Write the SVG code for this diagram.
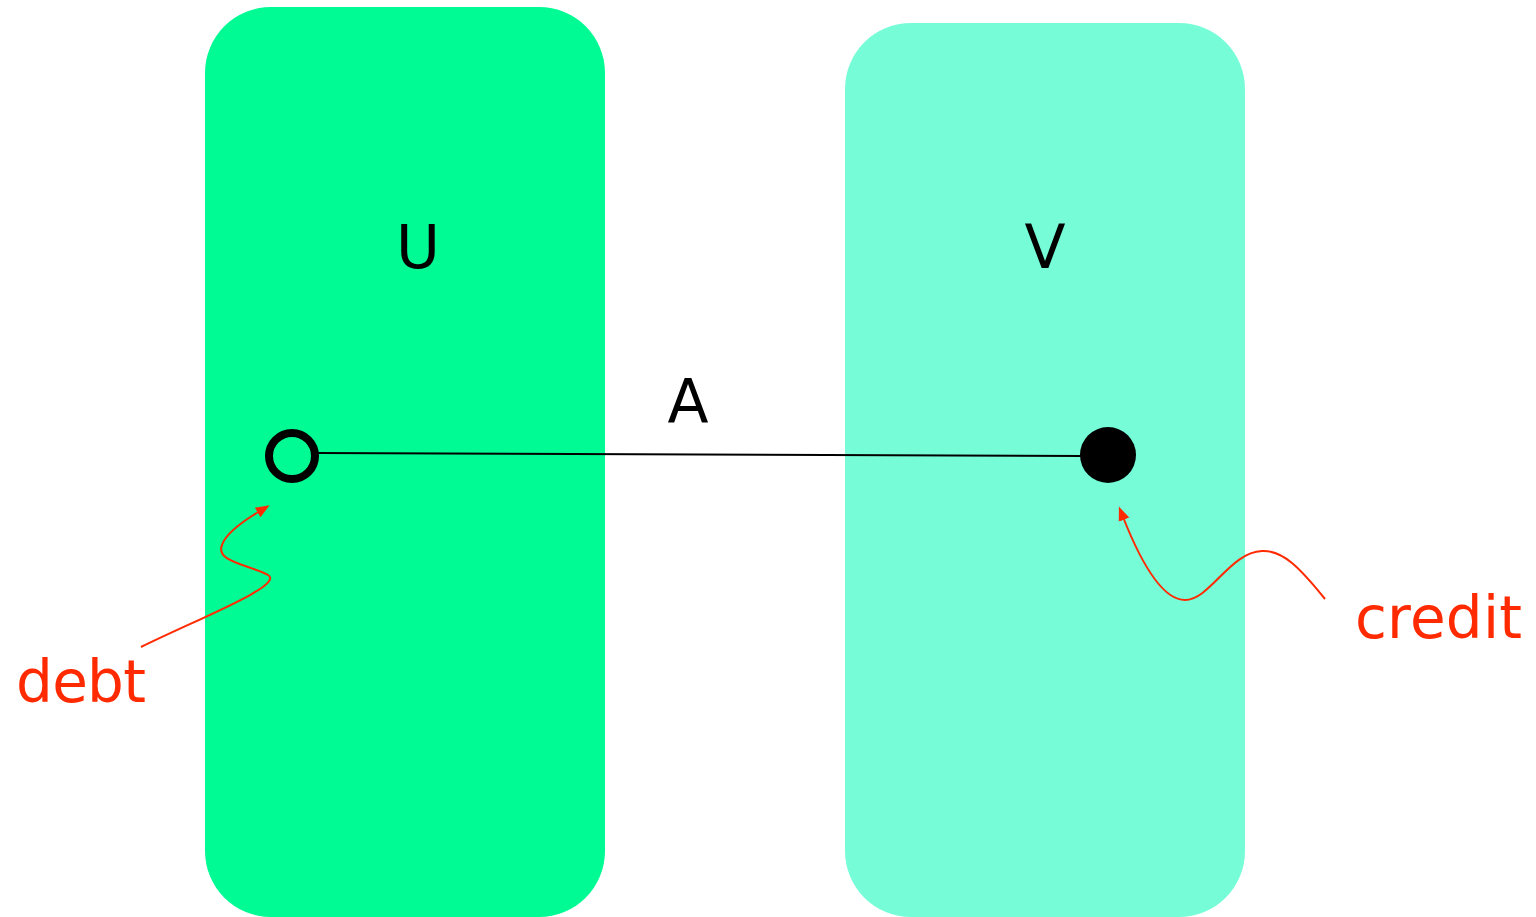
<svg xmlns="http://www.w3.org/2000/svg" width="1536" height="917" viewBox="0 0 1536 917">
<style>
.lbl{font-family:"DejaVu Sans","Liberation Sans",sans-serif;font-size:60px;fill:#000;text-anchor:middle}
.note{font-family:"DejaVu Sans","Liberation Sans",sans-serif;font-size:58px;fill:#ff2a00}
.red{fill:none;stroke:#ff2a00;stroke-width:2}
</style>
<defs>
<marker id="ah" viewBox="0 0 10 10" refX="2" refY="5" markerWidth="14" markerHeight="14" orient="auto" markerUnits="userSpaceOnUse">
<path d="M0,1 L10,5 L0,9 z" fill="#ff2a00"/>
</marker>
</defs>
<rect width="1536" height="917" fill="#fff"/>
<g id="U">
<rect x="205" y="7" width="400" height="910" rx="66" ry="66" fill="#00fa93"/>
<text class="lbl" x="418" y="268">U</text>
</g>
<g id="V">
<rect x="845" y="23" width="400" height="894" rx="66" ry="66" fill="#76fdd8"/>
<text class="lbl" x="1045" y="268">V</text>
</g>
<g id="connectors">
<line x1="318" y1="453" x2="1082" y2="456" stroke="#000" stroke-width="2"/>
<text class="lbl" x="688" y="422">A</text>
<path class="red" d="M141,647 C200,618 285,585 268,575 C250,565 215,562 222,545 C226,533 245,520 260,511" marker-end="url(#ah)"/>
<path class="red" d="M1325,599 C1300,568 1283,550 1262,551 C1230,552 1210,600 1185,600 C1160,600 1138,555 1123,517" marker-end="url(#ah)"/>
</g>
<g id="startNode">
<circle cx="292" cy="456" r="23" fill="none" stroke="#000" stroke-width="8"/>
</g>
<g id="endNode">
<circle cx="1108" cy="455" r="28" fill="#000"/>
</g>
<g id="debt">
<text class="note" x="16" y="702" textLength="130">debt</text>
</g>
<g id="credit">
<text class="note" x="1355" y="638" textLength="167">credit</text>
</g>
</svg>
